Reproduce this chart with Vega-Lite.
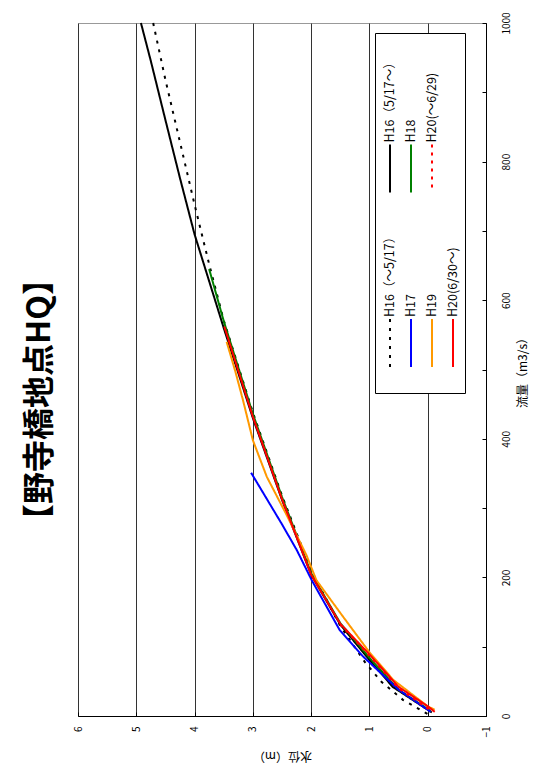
{
  "$schema": "https://vega.github.io/schema/vega-lite/v6.json",
  "width": 408,
  "height": 693,
  "autosize": "none",
  "padding": {"left": 78, "top": 23, "right": 53, "bottom": 64},
  "background": "white",
  "title": {
    "text": "【野寺橋地点HQ】",
    "orient": "left",
    "anchor": "middle",
    "fontSize": 32,
    "fontWeight": "bold",
    "font": "Noto Sans CJK JP",
    "color": "black",
    "offset": 16,
    "dx": -30
  },
  "config": {
    "view": {"stroke": "#999999", "strokeWidth": 1},
    "font": "Noto Sans CJK JP"
  },
  "data": {
    "values": [
      {"series": "H16（～5/17）", "level": -0.04, "flow": 1},
      {"series": "H16（～5/17）", "level": 0.42, "flow": 23},
      {"series": "H16（～5/17）", "level": 0.79, "flow": 49},
      {"series": "H16（～5/17）", "level": 1.08, "flow": 78},
      {"series": "H16（～5/17）", "level": 1.5, "flow": 130},
      {"series": "H16（～5/17）", "level": 2.0, "flow": 210},
      {"series": "H16（～5/17）", "level": 2.5, "flow": 318},
      {"series": "H16（～5/17）", "level": 3.0, "flow": 438},
      {"series": "H16（～5/17）", "level": 3.5, "flow": 571},
      {"series": "H16（～5/17）", "level": 3.75, "flow": 652},
      {"series": "H16（～5/17）", "level": 4.0, "flow": 738},
      {"series": "H16（～5/17）", "level": 4.25, "flow": 828},
      {"series": "H16（～5/17）", "level": 4.5, "flow": 918},
      {"series": "H16（～5/17）", "level": 4.71, "flow": 1000},
      {"series": "H16（5/17～）", "level": -0.07, "flow": 5},
      {"series": "H16（5/17～）", "level": 0.0, "flow": 9},
      {"series": "H16（5/17～）", "level": 0.6, "flow": 42},
      {"series": "H16（5/17～）", "level": 1.05, "flow": 86},
      {"series": "H16（5/17～）", "level": 1.5, "flow": 132},
      {"series": "H16（5/17～）", "level": 2.0, "flow": 204},
      {"series": "H16（5/17～）", "level": 2.5, "flow": 312},
      {"series": "H16（5/17～）", "level": 3.0, "flow": 430},
      {"series": "H16（5/17～）", "level": 3.5, "flow": 560},
      {"series": "H16（5/17～）", "level": 4.0, "flow": 695},
      {"series": "H16（5/17～）", "level": 4.25, "flow": 776},
      {"series": "H16（5/17～）", "level": 4.5, "flow": 860},
      {"series": "H16（5/17～）", "level": 4.75, "flow": 945},
      {"series": "H16（5/17～）", "level": 4.92, "flow": 1000},
      {"series": "H18", "level": -0.05, "flow": 7},
      {"series": "H18", "level": 0.0, "flow": 10},
      {"series": "H18", "level": 0.5, "flow": 38},
      {"series": "H18", "level": 1.0, "flow": 84},
      {"series": "H18", "level": 1.5, "flow": 134},
      {"series": "H18", "level": 2.0, "flow": 206},
      {"series": "H18", "level": 2.5, "flow": 316},
      {"series": "H18", "level": 3.0, "flow": 436},
      {"series": "H18", "level": 3.5, "flow": 570},
      {"series": "H18", "level": 3.75, "flow": 645},
      {"series": "H17", "level": -0.05, "flow": 6},
      {"series": "H17", "level": 0.0, "flow": 9},
      {"series": "H17", "level": 0.5, "flow": 38},
      {"series": "H17", "level": 1.11, "flow": 86},
      {"series": "H17", "level": 1.51, "flow": 124},
      {"series": "H17", "level": 1.99, "flow": 196},
      {"series": "H17", "level": 2.25, "flow": 240},
      {"series": "H17", "level": 2.51, "flow": 278},
      {"series": "H17", "level": 3.03, "flow": 351},
      {"series": "H19", "level": -0.12, "flow": 9},
      {"series": "H19", "level": 0.0, "flow": 14},
      {"series": "H19", "level": 0.59, "flow": 52},
      {"series": "H19", "level": 1.0, "flow": 92},
      {"series": "H19", "level": 1.45, "flow": 143},
      {"series": "H19", "level": 1.91, "flow": 196},
      {"series": "H19", "level": 2.08, "flow": 232},
      {"series": "H19", "level": 2.42, "flow": 290},
      {"series": "H19", "level": 2.76, "flow": 345},
      {"series": "H19", "level": 3.0, "flow": 398},
      {"series": "H19", "level": 3.17, "flow": 456},
      {"series": "H19", "level": 3.3, "flow": 497},
      {"series": "H19", "level": 3.45, "flow": 540},
      {"series": "H20(～6/29)", "level": -0.05, "flow": 8},
      {"series": "H20(～6/29)", "level": 0.5, "flow": 40},
      {"series": "H20(～6/29)", "level": 1.0, "flow": 87},
      {"series": "H20(～6/29)", "level": 1.5, "flow": 132},
      {"series": "H20(6/30～)", "level": -0.12, "flow": 6},
      {"series": "H20(6/30～)", "level": 0.0, "flow": 14},
      {"series": "H20(6/30～)", "level": 0.5, "flow": 42},
      {"series": "H20(6/30～)", "level": 1.0, "flow": 89},
      {"series": "H20(6/30～)", "level": 1.5, "flow": 133},
      {"series": "H20(6/30～)", "level": 2.0, "flow": 204},
      {"series": "H20(6/30～)", "level": 2.5, "flow": 313},
      {"series": "H20(6/30～)", "level": 3.0, "flow": 432},
      {"series": "H20(6/30～)", "level": 3.49, "flow": 562}
    ]
  },
  "mark": {"type": "line", "strokeWidth": 2, "strokeCap": "butt"},
  "encoding": {
    "x": {
      "field": "level",
      "type": "quantitative",
      "scale": {"domain": [-1, 6], "reverse": true, "nice": false, "zero": false},
      "axis": {
        "orient": "bottom",
        "values": [-1, 0, 1, 2, 3, 4, 5, 6],
        "grid": true,
        "gridColor": "#333333",
        "gridWidth": 1,
        "domainColor": "black",
        "tickColor": "black",
        "tickSize": -4,
        "labelAngle": -90,
        "labelAlign": "right",
        "labelBaseline": "middle",
        "labelFontSize": 10,
        "labelColor": "black",
        "labelPadding": 14,
        "title": "水位（m）",
        "titleAngle": 180,
        "titleBaseline": "bottom",
        "titleFontSize": 12,
        "titleFontWeight": "normal",
        "titleColor": "black",
        "titlePadding": 11
      }
    },
    "y": {
      "field": "flow",
      "type": "quantitative",
      "scale": {"domain": [0, 1000], "nice": false, "zero": false},
      "axis": {
        "orient": "right",
        "values": [0, 100, 200, 300, 400, 500, 600, 700, 800, 900, 1000],
        "labelExpr": "datum.value % 200 === 0 ? datum.label : ''",
        "format": "d",
        "grid": false,
        "domainColor": "black",
        "tickColor": "black",
        "tickSize": -4,
        "labelAngle": -90,
        "labelAlign": "center",
        "labelBaseline": "top",
        "labelFontSize": 10,
        "labelColor": "black",
        "labelPadding": 19,
        "title": "流量（m3/s）",
        "titleAngle": -90,
        "titleBaseline": "bottom",
        "titleFontSize": 12,
        "titleFontWeight": "normal",
        "titleColor": "black",
        "titlePadding": 18
      }
    },
    "color": {
      "field": "series",
      "type": "nominal",
      "scale": {
        "domain": ["H16（5/17～）", "H16（～5/17）", "H18", "H17", "H20(～6/29)", "H19", " ", "H20(6/30～)"],
        "range": ["#000000", "#000000", "#008000", "#0000FF", "#FF0000", "#FF9900", "#FFFFFF", "#FF0000"]
      },
      "legend": {
        "title": null,
        "orient": "none",
        "legendX": 297,
        "legendY": 10,
        "columns": 4,
        "fillColor": "white",
        "strokeColor": "black",
        "padding": 5,
        "symbolType": "M0,-1.111M0,10.667L0,16M0,17.778",
        "symbolSize": 324,
        "symbolStrokeWidth": 2,
        "labelFontSize": 12.5,
        "labelColor": "black",
        "labelOffset": -10,
        "labelLimit": 300,
        "columnPadding": 4,
        "rowPadding": -8,
        "encoding": {
          "labels": {"angle": {"value": -90}, "dx": {"value": -94}}
        }
      }
    },
    "strokeDash": {
      "field": "series",
      "type": "nominal",
      "scale": {
        "domain": ["H16（5/17～）", "H16（～5/17）", "H18", "H17", "H20(～6/29)", "H19", " ", "H20(6/30～)"],
        "range": [[1, 0], [3, 6], [1, 0], [1, 0], [3, 5], [1, 0], [1, 0], [1, 0]]
      },
      "legend": {
        "title": null,
        "orient": "none",
        "legendX": 297,
        "legendY": 10,
        "columns": 4,
        "fillColor": "white",
        "strokeColor": "black",
        "padding": 5,
        "symbolType": "M0,-1.111M0,10.667L0,16M0,17.778",
        "symbolSize": 324,
        "symbolStrokeWidth": 2,
        "labelFontSize": 12.5,
        "labelColor": "black",
        "labelOffset": -10,
        "labelLimit": 300,
        "columnPadding": 4,
        "rowPadding": -8,
        "encoding": {
          "labels": {"angle": {"value": -90}, "dx": {"value": -94}}
        }
      }
    }
  }
}
